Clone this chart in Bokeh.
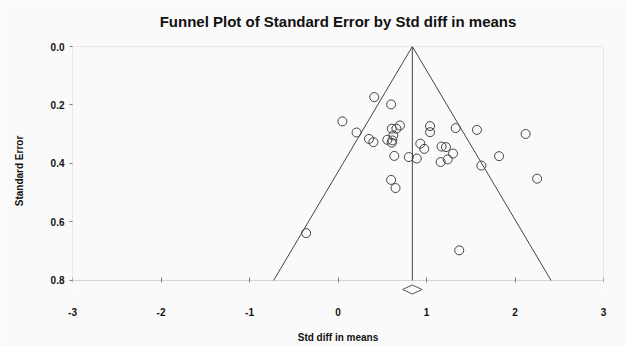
from bokeh.plotting import figure
from bokeh.models import (Range1d, FixedTicker, BoxAnnotation, NumeralTickFormatter,
                          LinearAxis, Title)
from bokeh.embed import file_html
from bokeh.resources import INLINE

# ---- data ----
std_diff = [0.41, 0.60, 0.05, 0.21, 0.35, 0.40, 0.557, 0.607, 0.70, 0.66,
            0.625, 0.614, 0.607, 0.636, 0.80, 0.89, 0.93, 0.975, 1.04, 1.04,
            1.33, 1.57, 1.17, 1.22, 1.30, 1.82, 2.12, 1.16, 1.24, 1.62,
            2.25, 0.60, 0.65, -0.36, 1.37]
std_err = [0.173, 0.198, 0.256, 0.294, 0.316, 0.327, 0.319, 0.281, 0.270, 0.281,
           0.304, 0.321, 0.329, 0.374, 0.378, 0.383, 0.332, 0.350, 0.272, 0.293,
           0.279, 0.285, 0.342, 0.344, 0.366, 0.375, 0.299, 0.395, 0.386, 0.407,
           0.452, 0.456, 0.484, 0.638, 0.697]
summary_mean = 0.84
summary_ci_low = 0.73
summary_ci_high = 0.95
x_ticks = [-3, -2, -1, 0, 1, 2, 3]
x_tick_labels = ["-3", "-2", "-1", "0", "1", "2", "3"]
y_ticks = [0.0, 0.2, 0.4, 0.6, 0.8]
title_text = "Funnel Plot of Standard Error by Std diff in means"

X_MIN, X_MAX = -3, 3
SE_MAX = 0.8
Y_BOTTOM = 0.8513          # room below the axis for the summary diamond
DIAMOND_Y = 0.8308
DIAMOND_HALF = 0.0154
Z = 1.96

FONT = "Liberation Sans"
BG = "#fafafa"
FRAME = "#808080"
INK = "#111111"

p = figure(width=626, height=346,
           x_range=Range1d(X_MIN, X_MAX), y_range=Range1d(Y_BOTTOM, 0),
           output_backend="svg", toolbar_location=None,
           min_border_left=72, min_border_right=23,
           min_border_top=46, min_border_bottom=51)
p.background_fill_color = BG
p.border_fill_color = BG
p.outline_line_color = None
p.xgrid.visible = False
p.ygrid.visible = False

xa = p.below[0]
ya = p.left[0]

# invisible spacer between frame and title (one hidden tick, only its length counts)
spacer = LinearAxis(ticker=FixedTicker(ticks=[0]))
spacer.major_label_overrides = {0: ""}
spacer.major_label_text_font_size = "1px"
spacer.major_label_text_color = None
spacer.axis_line_color = None
spacer.major_tick_line_color = None
spacer.minor_tick_line_color = None
spacer.major_tick_in = 0
spacer.major_tick_out = 17
spacer.major_label_standoff = 0
p.add_layout(spacer, "above")

p.add_layout(Title(text=title_text, align="center", vertical_align="bottom",
                   standoff=0, text_font=FONT, text_font_size="15px",
                   text_font_style="bold", text_color=INK), "above")

# frame box (0..SE_MAX, X_MIN..X_MAX)
p.add_layout(BoxAnnotation(left=X_MIN, right=X_MAX, top=0, bottom=SE_MAX,
                           fill_color=None, line_color=FRAME, line_width=1))

def style_text(ax):
    ax.major_label_text_font = FONT
    ax.major_label_text_font_size = "10px"
    ax.major_label_text_font_style = "bold"
    ax.major_label_text_color = INK
    ax.axis_label_text_font = FONT
    ax.axis_label_text_font_size = "10px"
    ax.axis_label_text_font_style = "bold"
    ax.axis_label_text_color = INK

# x axis: labels below the frame
xa.ticker = FixedTicker(ticks=x_ticks)
xa.major_label_overrides = dict(zip(x_ticks, x_tick_labels))
xa.axis_line_color = None
xa.major_tick_line_color = None
xa.minor_tick_line_color = None
xa.major_tick_in = 0
xa.major_tick_out = 0
xa.major_label_standoff = 12
xa.axis_label = "Std diff in means"
xa.axis_label_standoff = 13
style_text(xa)

# x tick marks on the SE_MAX line
xt = LinearAxis(fixed_location=SE_MAX, ticker=FixedTicker(ticks=x_ticks))
xt.axis_line_color = None
xt.major_tick_in = 3
xt.major_tick_out = 2
xt.major_tick_line_color = FRAME
xt.minor_tick_line_color = None
xt.major_label_text_color = None
xt.major_label_text_font_size = "1px"
p.add_layout(xt, "below")

ya.ticker = FixedTicker(ticks=y_ticks)
ya.formatter = NumeralTickFormatter(format="0.0")
ya.axis_line_color = None
ya.major_tick_in = 0
ya.major_tick_out = 3
ya.major_tick_line_color = FRAME
ya.minor_tick_line_color = None
ya.major_label_standoff = 5
ya.axis_label = "Standard Error"
ya.axis_label_standoff = 23
style_text(ya)

# funnel
p.line(x=[summary_mean - Z * SE_MAX, summary_mean, summary_mean + Z * SE_MAX],
       y=[SE_MAX, 0, SE_MAX], line_color="#444444", line_width=1)
p.line(x=[summary_mean, summary_mean], y=[0, SE_MAX], line_color="#444444", line_width=1)

# studies
p.scatter(x=std_diff, y=std_err, marker="circle", size=9,
          fill_color=None, line_color="#444444", line_width=1)

# summary diamond
p.patch(x=[summary_ci_low, summary_mean, summary_ci_high, summary_mean],
        y=[DIAMOND_Y, DIAMOND_Y - DIAMOND_HALF, DIAMOND_Y, DIAMOND_Y + DIAMOND_HALF],
        fill_color=None, line_color="#555555", line_width=1)

open("out.html", "w").write(file_html(p, INLINE))
